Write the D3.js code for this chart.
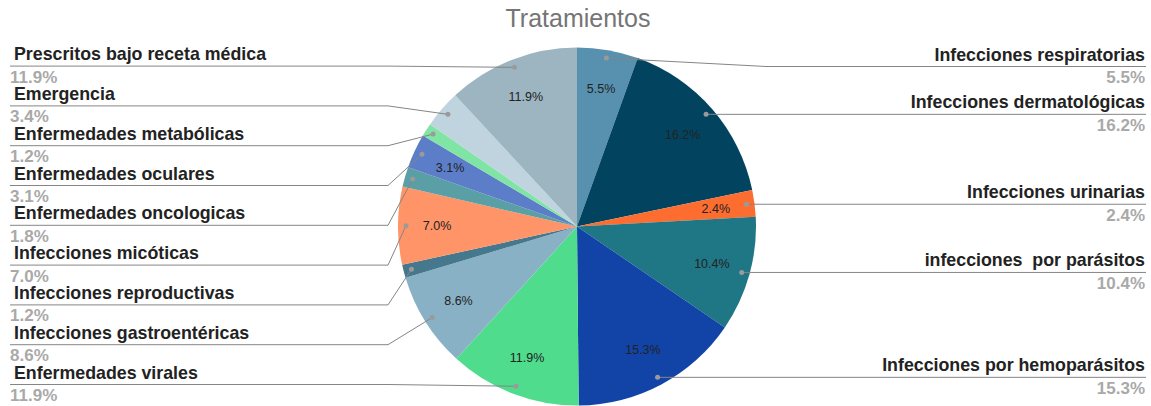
<!DOCTYPE html>
<html>
<head>
<meta charset="utf-8">
<script src="https://cdn.jsdelivr.net/npm/d3@7"></script>
<style>
  body { margin: 0; background: #fff; }
  svg { display: block; font-family: "Liberation Sans", Arial, sans-serif; }
</style>
</head>
<body>
<div class="canvas"></div>
<script>
// slices, clockwise from 12 o'clock
const categories = [
    'Infecciones respiratorias',
    'Infecciones dermatológicas',
    'Infecciones urinarias',
    'infecciones  por parásitos',
    'Infecciones por hemoparásitos',
    'Enfermedades virales',
    'Infecciones gastroentéricas',
    'Infecciones reproductivas',
    'Infecciones micóticas',
    'Enfermedades oncologicas',
    'Enfermedades oculares',
    'Enfermedades metabólicas',
    'Emergencia',
    'Prescritos bajo receta médica'
];
const values = [5.5, 16.2, 2.4, 10.4, 15.3, 11.9, 8.6, 1.2, 7.0, 1.8, 3.1, 1.2, 3.4, 11.9];
const colors = [
    '#5891af', '#02445f', '#fd6d30', '#1f7685', '#1244a8', '#4fdc8c', '#89b1c6',
    '#45788c', '#fe9468', '#5a9ea6', '#5c7ec9', '#80e4a5', '#bfd4df', '#9cb5c1'
];
// slices whose inside label is not drawn (too small / crowded)
const hiddenInner = ['Infecciones reproductivas', 'Enfermedades oncologicas', 'Enfermedades metabólicas', 'Emergencia'];

const data = categories.map((c, i) => ({ name: c, value: values[i], color: colors[i] }));

const width = 1151, height = 406;
const cx = 577, cy = 226.5, r = 179;

const svg = d3.select('.canvas')
    .append('svg')
    .attr('width', width)
    .attr('height', height);

// title
svg.append('text')
    .attr('x', 578)
    .attr('y', 27)
    .attr('text-anchor', 'middle')
    .attr('fill', '#757575')
    .style('font-size', '25px')
    .text('Tratamientos');

const pie = d3.pie().sort(null).value(d => d.value);
const arcs = pie(data);

const arc = d3.arc().innerRadius(0).outerRadius(r);
const innerArc = d3.arc().innerRadius(140).outerRadius(140);
const dotArc = d3.arc().innerRadius(171).outerRadius(171);

const graph = svg.append('g')
    .attr('transform', `translate(${cx}, ${cy})`);

graph.selectAll('path')
    .data(arcs)
    .enter()
    .append('path')
    .attr('d', arc)
    .attr('fill', d => d.data.color);

const fmt = v => d3.format('.1f')(v) + '%';

// percentages inside the slices
graph.selectAll('text.inner')
    .data(arcs.filter(d => !hiddenInner.includes(d.data.name)))
    .enter()
    .append('text')
    .attr('class', 'inner')
    .attr('transform', d => `translate(${innerArc.centroid(d)})`)
    .attr('text-anchor', 'middle')
    .attr('dy', '0.35em')
    .attr('fill', '#222')
    .style('font-size', '12.5px')
    .text(d => fmt(d.data.value));

// work out where each outside label sits
const gap = 39.8, minY = 66.5, maxY = 384.5;
const labels = arcs.map(d => {
    const [dx, dy] = dotArc.centroid(d);
    const mid = (d.startAngle + d.endAngle) / 2;
    return { d: d, x: cx + dx, y: cy + dy, right: mid < Math.PI, ly: cy + dy };
});

function spread(list) {
    list.sort((a, b) => a.y - b.y);
    for (let i = 0; i < list.length; i++) {
        let y = Math.max(list[i].y, minY);
        if (i > 0) y = Math.max(y, list[i - 1].ly + gap);
        list[i].ly = y;
    }
    for (let i = list.length - 1; i >= 0; i--) {
        let y = Math.min(list[i].ly, maxY);
        if (i < list.length - 1) y = Math.min(y, list[i + 1].ly - gap);
        list[i].ly = y;
    }
}
spread(labels.filter(l => l.right));
spread(labels.filter(l => !l.right));

const leaders = svg.append('g');

leaders.selectAll('polyline')
    .data(labels)
    .enter()
    .append('polyline')
    .attr('fill', 'none')
    .attr('stroke', '#858585')
    .attr('stroke-width', 1)
    .attr('points', l => {
        const bend = l.right ? cx + r + 10 : cx - r - 10;
        const end = l.right ? 1146 : 10;
        return [[l.x, l.y], [bend, l.ly], [end, l.ly]].map(p => p.join(',')).join(' ');
    });

leaders.selectAll('circle')
    .data(labels)
    .enter()
    .append('circle')
    .attr('cx', l => l.x)
    .attr('cy', l => l.y)
    .attr('r', 2.5)
    .attr('fill', '#9a9a9a');

// category names
leaders.selectAll('text.name')
    .data(labels)
    .enter()
    .append('text')
    .attr('class', 'name')
    .attr('x', l => l.right ? 1145 : 14)
    .attr('y', l => l.ly - 6)
    .attr('text-anchor', l => l.right ? 'end' : 'start')
    .attr('fill', '#222')
    .style('font-size', '17.8px')
    .style('font-weight', 'bold')
    .style('white-space', 'pre')
    .text(l => l.d.data.name);

// percentages under the names
leaders.selectAll('text.pct')
    .data(labels)
    .enter()
    .append('text')
    .attr('class', 'pct')
    .attr('x', l => l.right ? 1145 : 10)
    .attr('y', l => l.ly + 16.5)
    .attr('text-anchor', l => l.right ? 'end' : 'start')
    .attr('fill', '#a9a9a9')
    .style('font-size', '17px')
    .style('font-weight', 'bold')
    .text(l => fmt(l.d.data.value));
</script>
</body>
</html>
